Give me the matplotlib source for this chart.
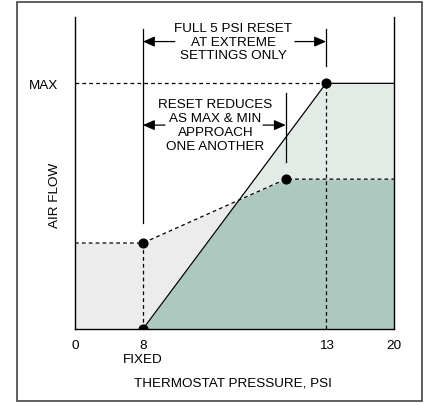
"""Air flow vs thermostat pressure reset diagram."""

import matplotlib
matplotlib.use("Agg")
import matplotlib.pyplot as plt
import numpy as np
from matplotlib.patches import Rectangle

plt.rcParams["font.family"] = ["Liberation Sans", "DejaVu Sans"]

# schematic axis: tick values and where they sit along the axis (0..1)
x_ticks = [0, 8, 13, 20]
x_tick_labels = ["0", "8", "13", "20"]
x_positions = [0.0, 0.213, 0.787, 1.0]

max_flow = 100
# maximum air flow line (solid)
max_x = [8, 13, 20]
max_y = [0, 100, 100]
# minimum air flow line (dashed)
min_x = [0, 8, 11.9, 20]
min_y = [35, 35, 61, 61]

C_DARK = "#adc8bf"
C_LIGHT = "#e3ebe7"
C_GRAY = "#ececec"
FS = 9.7


def fwd(x):
    return np.interp(x, x_ticks, x_positions)


def inv(x):
    return np.interp(x, x_positions, x_ticks)


fig = plt.figure(figsize=(4.25, 4.06), dpi=100)
ax = fig.add_axes([75 / 425, 76 / 406, 319 / 425, 312 / 406])
ax.set_xscale("function", functions=(fwd, inv))
ax.set_xlim(0, 20)
ax.set_ylim(0, 127)

xg = np.linspace(0, 20, 2001)
solid = np.interp(xg, max_x, max_y, left=0)
dash = np.interp(xg, min_x, min_y)
ax.fill_between(xg, solid, dash, where=solid <= dash, color=C_GRAY, lw=0)
ax.fill_between(xg, dash, solid, where=solid >= dash, color=C_LIGHT, lw=0)
ax.fill_between(xg, 0, np.minimum(solid, dash), where=xg >= 8, color=C_DARK, lw=0)

dash_kw = dict(color="black", lw=0.9, ls=(0, (3, 2.5)))
ax.plot([0, 13], [max_flow, max_flow], **dash_kw)
ax.plot(min_x, min_y, **dash_kw)
ax.plot([8, 8], [0, min_y[1]], **dash_kw)
ax.plot([13, 13], [0, max_flow], **dash_kw)
ax.plot(max_x, max_y, color="black", lw=0.9)
ax.plot([8, 13, 8, 11.9], [0, 100, 35, 61], "o", color="black", ms=6.3)

# dimension lines
ax.plot([8, 8], [43, 122], color="black", lw=0.9)
ax.plot([13, 13], [107, 122], color="black", lw=0.9)
ax.plot([11.9, 11.9], [68, 96], color="black", lw=0.9)
arr = dict(arrowstyle="-|>,head_length=0.5,head_width=0.22", color="black", lw=0.9,
           mutation_scale=14, shrinkA=0, shrinkB=0)
ax.annotate("", xy=(8, 117), xytext=(8.87, 117), arrowprops=arr)
ax.annotate("", xy=(13, 117), xytext=(12.15, 117), arrowprops=arr)
ax.annotate("", xy=(8, 83), xytext=(8.6, 83), arrowprops=arr)
ax.annotate("", xy=(11.9, 83), xytext=(11.28, 83), arrowprops=arr)

ax.text(10.46, 117, "FULL 5 PSI RESET\nAT EXTREME\nSETTINGS ONLY", ha="center",
        va="center", fontsize=FS, linespacing=1.2)
ax.text(9.98, 83, "RESET REDUCES\nAS MAX & MIN\nAPPROACH\nONE ANOTHER", ha="center",
        va="center", fontsize=FS, linespacing=1.2)

ax.set_xticks(x_ticks, x_tick_labels)
ax.set_yticks([max_flow], ["MAX"])
ax.tick_params(length=0, labelsize=FS)
ax.tick_params(axis="x", pad=7)
ax.tick_params(axis="y", pad=12)
ax.spines["top"].set_visible(False)
for s in ["left", "right", "bottom"]:
    ax.spines[s].set_linewidth(1.0)

ax.text(8, -0.095, "FIXED", transform=ax.get_xaxis_transform(), ha="center", va="center",
        fontsize=FS)
ax.text(0.495, -0.17, "THERMOSTAT PRESSURE, PSI", transform=ax.transAxes, ha="center",
        va="center", fontsize=FS)
ax.text(-0.063, 0.433, "AIR FLOW", transform=ax.transAxes, ha="center", va="center",
        rotation=90, fontsize=FS)

fig.patches.append(Rectangle((17 / 425, 4.5 / 406), 405 / 425, 398.5 / 406,
                             transform=fig.transFigure, fill=False, ec="#444444", lw=1.2))

fig.savefig("out.png", dpi=100)
